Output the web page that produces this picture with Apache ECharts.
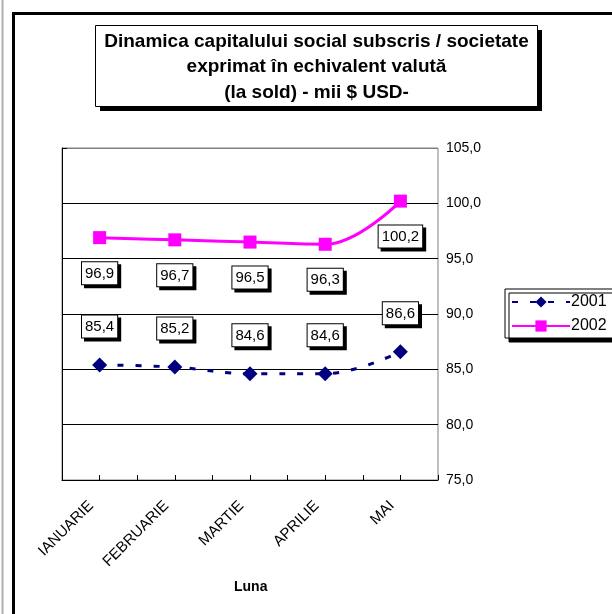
<!DOCTYPE html>
<html><head><meta charset="utf-8">
<script src="https://cdn.jsdelivr.net/npm/echarts@6/dist/echarts.min.js"></script>
<style>html,body{margin:0;padding:0;background:#fff}#c{width:612px;height:614px}</style>
</head><body><div id="c"></div>
<script>
const categories = ['IANUARIE', 'FEBRUARIE', 'MARTIE', 'APRILIE', 'MAI'];
const values2001 = [85.4, 85.2, 84.6, 84.6, 86.6];
const values2002 = [96.9, 96.7, 96.5, 96.3, 100.2];
const seriesNames = ['2001', '2002'];
const titleLines = ['Dinamica capitalului social subscris / societate', 'exprimat în echivalent valută', '(la sold) - mii $ USD-'];
const xAxisName = 'Luna';

const FONT = '"Liberation Sans", Arial, sans-serif';
const fmt = v => v.toFixed(1).replace('.', ',');
const labelBox = {
  show: true, color: '#000', fontFamily: FONT, fontSize: 15,
  backgroundColor: '#fff', borderColor: '#000', borderWidth: 1,
  padding: [4, 3, 3, 3], shadowColor: '#000', shadowOffsetX: 3, shadowOffsetY: 3, shadowBlur: 0,
  formatter: p => fmt(p.value)
};

const chart = echarts.init(document.getElementById('c'), null, {renderer: 'canvas'});
chart.setOption({
  animation: false,
  backgroundColor: '#fff',
  graphic: [
    {type: 'line', shape: {x1: 2.5, y1: 0, x2: 2.5, y2: 614}, style: {stroke: '#b0b0b0', lineWidth: 2}},
    {type: 'rect', shape: {x: 13.5, y: 13.5, width: 700, height: 700}, style: {fill: 'none', stroke: '#000', lineWidth: 3}},
    {type: 'rect', shape: {x: 100, y: 30, width: 442, height: 81}, style: {fill: '#000'}},
    {type: 'rect', shape: {x: 95.5, y: 25.5, width: 442, height: 81}, style: {fill: '#fff', stroke: '#000', lineWidth: 1}},
    {type: 'text', x: 316.5, y: 29, style: {text: titleLines.join('\n'), font: 'bold 19px ' + FONT, fill: '#000', textAlign: 'center', lineHeight: 25.5}},
    {type: 'text', left: 234, top: 580, style: {text: xAxisName, font: 'bold 14px ' + FONT, fill: '#000'}}
  ],
  legend: {
    data: seriesNames, left: 505, top: 289, orient: 'vertical',
    padding: [5, 40, 4, 6], itemGap: 8, itemWidth: 58, itemHeight: 14,
    backgroundColor: '#fff', borderColor: '#000', borderWidth: 1,
    shadowColor: '#000', shadowOffsetX: 4, shadowOffsetY: 4, shadowBlur: 0,
    textStyle: {fontFamily: FONT, fontSize: 16, color: '#000', padding: [0, 0, 0, -4]}
  },
  grid: {left: 62, right: 174, top: 148, bottom: 134, show: true, borderColor: '#808080', borderWidth: 1, backgroundColor: '#fff'},
  xAxis: [{
    type: 'category', data: categories, boundaryGap: true,
    axisLine: {lineStyle: {color: '#000', width: 1}},
    axisTick: {show: false},
    axisLabel: {rotate: 45, margin: 15, padding: [0, 12, 0, 0], color: '#000', fontFamily: FONT, fontSize: 15, interval: 0}
  }, {
    type: 'value', min: 0, max: 10, interval: 1, position: 'bottom',
    axisLine: {show: false}, splitLine: {show: false}, axisLabel: {show: false},
    axisTick: {show: true, inside: true, length: 5, lineStyle: {color: '#000'}}
  }],
  yAxis: {
    type: 'value', position: 'right', min: 75, max: 105, interval: 5,
    axisLine: {show: true, lineStyle: {color: '#000'}},
    axisTick: {show: true, length: 5, lineStyle: {color: '#000'}},
    splitLine: {show: true, lineStyle: {color: ['#000', '#000', '#000', '#000', '#000', '#000', '#808080'], width: 1}},
    axisLabel: {color: '#000', fontFamily: FONT, fontSize: 14, margin: 8, formatter: v => fmt(v)}
  },
  series: [{
    name: seriesNames[0], type: 'line', data: values2001, smooth: 0.4,
    symbol: 'diamond', symbolSize: 15,
    itemStyle: {color: '#000080'},
    lineStyle: {color: '#000080', width: 3, type: [6, 12]},
    label: Object.assign({position: 'top', distance: 20}, labelBox)
  }, {
    name: seriesNames[1], type: 'line', data: values2002, smooth: 0.4,
    symbol: 'rect', symbolSize: 13,
    itemStyle: {color: '#ff00ff'},
    lineStyle: {color: '#ff00ff', width: 3},
    label: Object.assign({position: 'bottom', distance: 18}, labelBox)
  }]
});
</script></body></html>
